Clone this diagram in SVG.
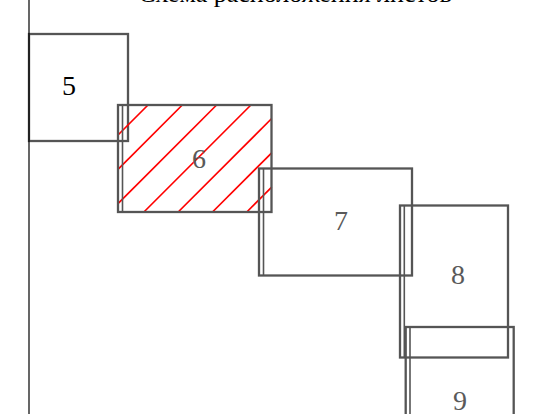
<svg xmlns="http://www.w3.org/2000/svg" width="539" height="414" viewBox="0 0 539 414">
<style>
.sheet{fill:none;stroke:#555555;stroke-width:2.3}
.inner{fill:none;stroke:#555555;stroke-width:1.6}
.num{font-family:"Liberation Serif","Times New Roman",serif;font-size:28px;text-anchor:middle;fill:#5a5a5a}
.hatch{stroke:#ff0000;stroke-width:1.7}
.title{font-family:"Liberation Serif","Times New Roman",serif;font-size:26px;text-anchor:middle;fill:#000}
</style>
<rect width="539" height="414" fill="#fff"/>
<text class="title" x="295" y="2">Схема расположения листов</text>
<g id="sheet5">
<rect class="sheet" x="29" y="34" width="99" height="107"/>
<text class="num" x="69" y="95" style="fill:#000">5</text>
</g>
<g id="sheet6">
<g class="hatch">
<line x1="118" y1="135" x2="148" y2="105"/>
<line x1="118" y1="169.3" x2="182.3" y2="105"/>
<line x1="118" y1="203.6" x2="216.6" y2="105"/>
<line x1="143.9" y1="212" x2="250.9" y2="105"/>
<line x1="178.2" y1="212" x2="271.7" y2="118.5"/>
<line x1="212.5" y1="212" x2="271.7" y2="152.8"/>
<line x1="246.8" y1="212" x2="271.7" y2="187.1"/>
</g>
<rect class="sheet" x="118" y="105" width="153.5" height="107"/>
<line class="inner" x1="122.5" y1="105" x2="122.5" y2="212"/>
<text class="num" x="199" y="168">6</text>
</g>
<g id="sheet7">
<rect class="sheet" x="259" y="168.5" width="153" height="107"/>
<line class="inner" x1="263.5" y1="168.5" x2="263.5" y2="275.5"/>
<text class="num" x="341" y="230">7</text>
</g>
<g id="sheet8">
<rect class="sheet" x="400" y="205.5" width="108" height="152"/>
<line class="inner" x1="404.3" y1="205.5" x2="404.3" y2="357.5"/>
<text class="num" x="458" y="284">8</text>
</g>
<g id="sheet9">
<rect class="sheet" x="405.7" y="327" width="108" height="120"/>
<line class="inner" x1="410" y1="327" x2="410" y2="414"/>
<text class="num" x="460" y="410">9</text>
</g>
<line x1="29" y1="0" x2="29" y2="414" stroke="#000" stroke-width="1.2"/>
</svg>
